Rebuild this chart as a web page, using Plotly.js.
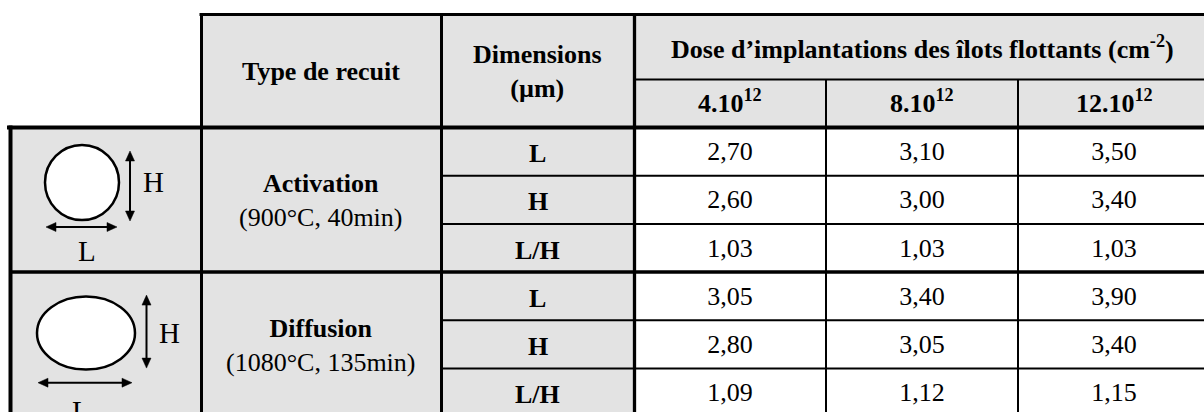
<!DOCTYPE html>
<html><head><meta charset="utf-8">
<script src="https://cdn.plot.ly/plotly-3.0.1.min.js"></script>
<style>html,body{margin:0;padding:0;background:#fff;overflow:hidden}</style>
</head><body><div id="chart" style="width:1204px;height:412px"></div>
<script>
// ---------- data ----------
const doseLabels = ['4.10<sup>12</sup>', '8.10<sup>12</sup>', '12.10<sup>12</sup>'];
const annealTypes = ['Activation', 'Diffusion'];
const annealConditions = ['(900°C, 40min)', '(1080°C, 135min)'];
const dimensionLabels = ['L', 'H', 'L/H'];
const activationL  = [2.70, 3.10, 3.50];
const activationH  = [2.60, 3.00, 3.40];
const activationLH = [1.03, 1.03, 1.03];
const diffusionL   = [3.05, 3.40, 3.90];
const diffusionH   = [2.80, 3.05, 3.40];
const diffusionLH  = [1.09, 1.12, 1.15];
const headerType = 'Type de recuit';
const headerDims = 'Dimensions<br>(µm)';
const headerDose = 'Dose d’implantations des îlots flottants (cm<sup>-2</sup>)';

// ---------- layout geometry (pixel units on hidden axes) ----------
const W = 1204, H = 412;
const X0 = 9;
const colWidths = [192, 240, 193, 192, 192, 192];
const colEdges = [X0];
colWidths.forEach(w => colEdges.push(colEdges[colEdges.length - 1] + w));
const Y_TOP = 14.5, Y_SUB = 79.5, Y_BODY = 127.5, ROW_H = 48.2;
const TEXT_DY = 2;
const rowEdge = i => Y_BODY + i * ROW_H;
const colMid = i => (colEdges[i] + colEdges[i + 1]) / 2;
const rowMid = i => Y_BODY + (i + 0.5) * ROW_H;
const GRAY = '#e3e3e3';
const FONT = 'Liberation Serif, Times New Roman, serif';
const FS = 26;

const groups = [
  {type: annealTypes[0], cond: annealConditions[0], rows: [activationL, activationH, activationLH]},
  {type: annealTypes[1], cond: annealConditions[1], rows: [diffusionL, diffusionH, diffusionLH]}
];
const fmt = v => v.toFixed(2).replace('.', ',');

// data cells
const tx = [], ty = [], tt = [];
groups.forEach((g, gi) => g.rows.forEach((vals, ri) => vals.forEach((v, ci) => {
  tx.push(colMid(3 + ci)); ty.push(rowMid(gi * 3 + ri) + TEXT_DY); tt.push(fmt(v));
})));
const trace = {
  type: 'scatter', mode: 'text', x: tx, y: ty, text: tt,
  textposition: 'middle center',
  textfont: {family: FONT, size: FS, color: '#000'},
  hoverinfo: 'skip', showlegend: false
};

// ---------- shapes ----------
const shapes = [];
const rect = (x0, y0, x1, y1, fill) => shapes.push({type: 'rect', xref: 'x', yref: 'y', x0, y0, x1, y1, fillcolor: fill, line: {width: 0}, layer: 'below'});
const line = (x0, y0, x1, y1, w) => shapes.push({type: 'line', xref: 'x', yref: 'y', x0, y0, x1, y1, line: {color: '#000', width: w}});
const xEnd = colEdges[6];
const yEnd = rowEdge(6);

rect(colEdges[1], Y_TOP, xEnd, Y_BODY, GRAY);
rect(colEdges[0], Y_BODY, colEdges[3], yEnd, GRAY);

line(colEdges[1] - 1.5, Y_TOP, xEnd, Y_TOP, 3);
line(colEdges[3], Y_SUB, xEnd, Y_SUB, 2);
line(colEdges[0] - 2, Y_BODY, xEnd, Y_BODY, 4);
line(colEdges[0] + 1.5, Y_BODY - 2, colEdges[0] + 1.5, yEnd, 4);
line(colEdges[1] + 0.5, Y_TOP, colEdges[1] + 0.5, yEnd, 3);
line(colEdges[2] + 0.5, Y_TOP, colEdges[2] + 0.5, yEnd, 3);
line(colEdges[3] + 0.5, Y_TOP, colEdges[3] + 0.5, yEnd, 3.3);
line(colEdges[4], Y_SUB, colEdges[4], yEnd, 2);
line(colEdges[5], Y_SUB, colEdges[5], yEnd, 2);
[1, 2, 4, 5].forEach(r => line(colEdges[2], rowEdge(r), xEnd, rowEdge(r), 2));
line(colEdges[0], rowEdge(3), xEnd, rowEdge(3), 3.5);

// ---------- icons ----------
const icons = [
  {cx: 82, cy: 55, rx: 37, ry: 37.5, vx: 130, vy0: 23.5, vy1: 93.5, hy: 99.5, hx0: 46, hx1: 117, Hx: 153, Hy: 54.5, Lx: 87, Ly: 123.5},
  {cx: 86, cy: 61, rx: 49, ry: 36.5, vx: 146.5, vy0: 23, vy1: 96, hy: 110.6, hx0: 38, hx1: 132, Hx: 169, Hy: 61, Lx: 81, Ly: 139}
];
const annotations = [];
const ann = (x, y, text, opts = {}) => annotations.push(Object.assign({
  xref: 'x', yref: 'y', x, y, text, showarrow: false,
  xanchor: 'center', yanchor: 'middle',
  font: {family: FONT, size: FS, color: '#000', weight: 'bold'}
}, opts));
const HEAD_L = 10, HEAD_W = 4.5;
const head = (tx, ty, dx, dy) => {
  const bx = tx - dx * HEAD_L, by = ty - dy * HEAD_L;
  const px = -dy * HEAD_W, py = dx * HEAD_W;
  shapes.push({type: 'path', xref: 'x', yref: 'y',
    path: `M${tx},${ty} L${bx + px},${by + py} L${bx - px},${by - py} Z`,
    fillcolor: '#000', line: {color: '#000', width: 0.5}});
};
const dblArrow = (x0, y0, x1, y1) => {
  const len = Math.hypot(x1 - x0, y1 - y0), dx = (x1 - x0) / len, dy = (y1 - y0) / len;
  line(x0 + dx * HEAD_L * 0.8, y0 + dy * HEAD_L * 0.8, x1 - dx * HEAD_L * 0.8, y1 - dy * HEAD_L * 0.8, 2);
  head(x1, y1, dx, dy);
  head(x0, y0, -dx, -dy);
};
const ICON_FONT = {family: FONT, size: 29, color: '#000', weight: 'normal'};
icons.forEach((ic, gi) => {
  const gt = rowEdge(gi * 3);
  shapes.push({type: 'circle', xref: 'x', yref: 'y', x0: ic.cx - ic.rx, x1: ic.cx + ic.rx,
    y0: gt + ic.cy - ic.ry, y1: gt + ic.cy + ic.ry, fillcolor: '#fff', line: {color: '#000', width: 2.5}});
  dblArrow(ic.vx, gt + ic.vy0, ic.vx, gt + ic.vy1);
  dblArrow(ic.hx0, gt + ic.hy, ic.hx1, gt + ic.hy);
  ann(ic.Hx, gt + ic.Hy, 'H', {font: ICON_FONT});
  ann(ic.Lx, gt + ic.Ly, 'L', {font: ICON_FONT});
});

// ---------- header & label texts ----------
ann(colMid(1), (Y_TOP + Y_BODY) / 2, headerType);
ann(colMid(2), (Y_TOP + Y_BODY) / 2, headerDims);
ann((colEdges[3] + colEdges[6]) / 2, (Y_TOP + Y_SUB) / 2, headerDose);
doseLabels.forEach((d, i) => ann(colMid(3 + i), (Y_SUB + Y_BODY) / 2 - 2, d));
groups.forEach((g, gi) => {
  ann(colMid(1), rowMid(gi * 3 + 1) + 1, '<b>' + g.type + '</b><br>' + g.cond,
      {font: {family: FONT, size: FS, color: '#000', weight: 'normal'}});
  dimensionLabels.forEach((d, ri) => ann(colMid(2), rowMid(gi * 3 + ri) + TEXT_DY, d));
});

const layout = {
  width: W, height: H, margin: {l: 0, r: 0, t: 0, b: 0},
  paper_bgcolor: '#fff', plot_bgcolor: '#fff',
  xaxis: {range: [0, W], visible: false, fixedrange: true},
  yaxis: {range: [H, 0], visible: false, fixedrange: true},
  shapes, annotations, showlegend: false
};
Plotly.newPlot('chart', [trace], layout, {staticPlot: true, displayModeBar: false});
</script></body></html>
